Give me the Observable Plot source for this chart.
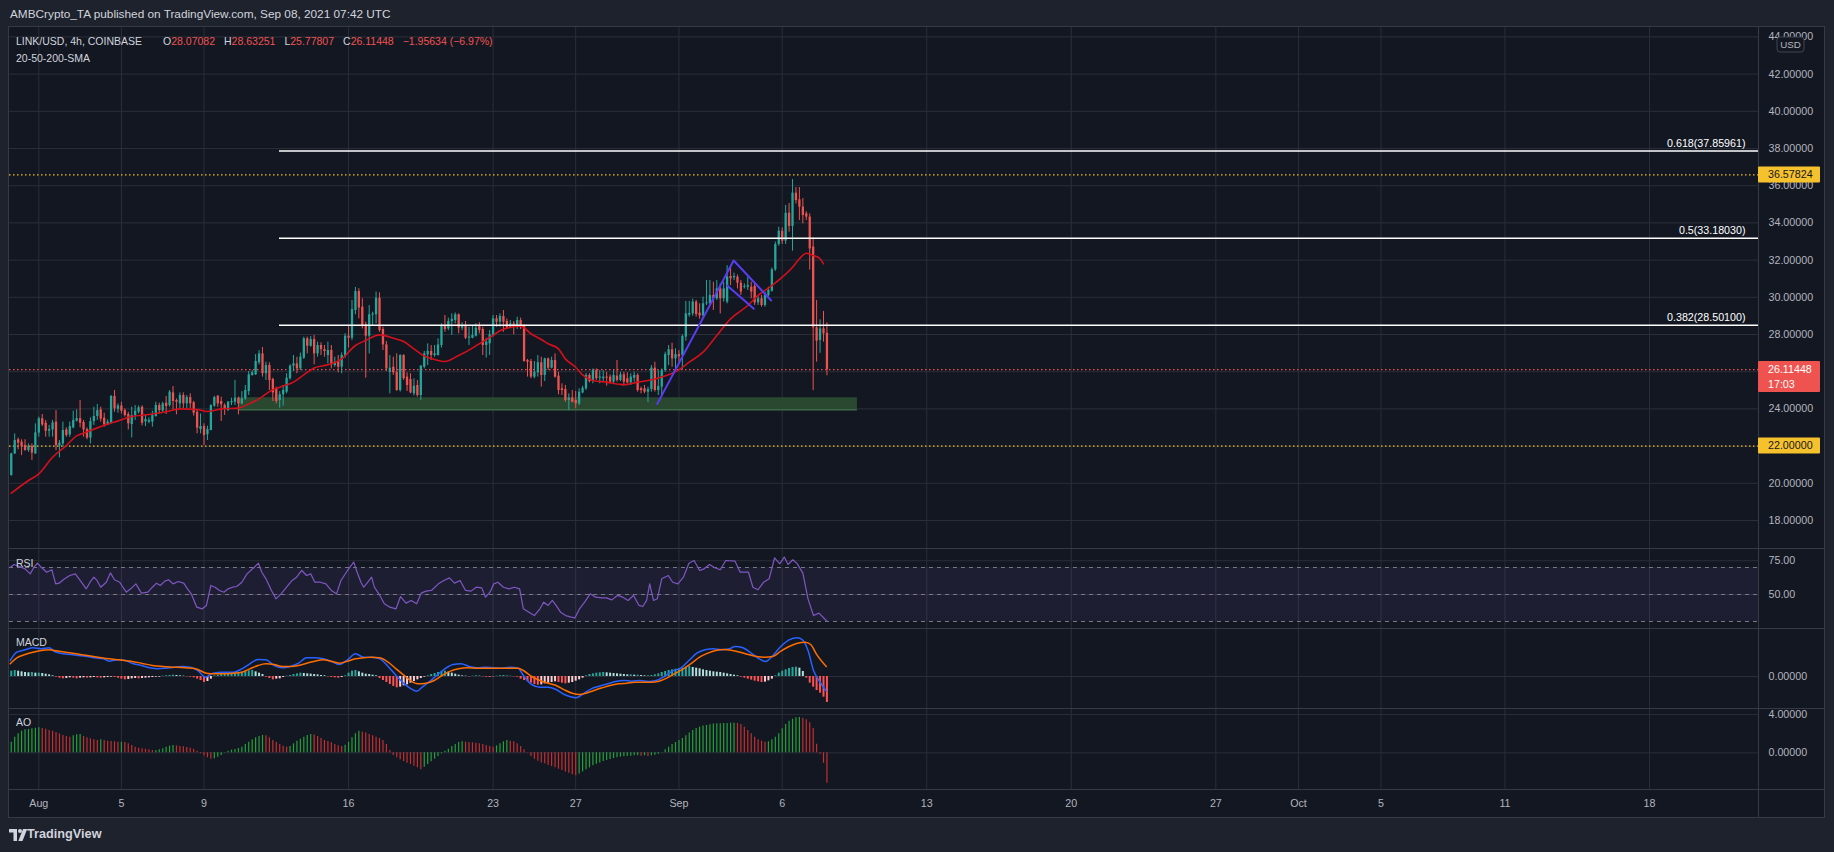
<!DOCTYPE html>
<html>
<head>
<meta charset="utf-8">
<script src="https://cdn.jsdelivr.net/npm/d3@7"></script>
<script src="https://cdn.jsdelivr.net/npm/@observablehq/plot@0.6"></script>
<style>
  html, body { margin:0; padding:0; background:#1e222d; }
  #root { position:relative; width:1834px; height:852px; background:#1e222d; overflow:hidden; }
  .abs { position:absolute; white-space:nowrap; line-height:1; }
  .abs svg { display:block; }
</style>
</head>
<body>
<div id="root"></div>
<script>
// ---------------- DATA ----------------
const titleText = "AMBCrypto_TA published on TradingView.com, Sep 08, 2021 07:42 UTC";
const symbolText = "LINK/USD, 4h, COINBASE";
const legendKeys = ["O", "H", "L", "C"];
const legendValues = ["28.07082", "28.63251", "25.77807", "26.11448"];
const changeText = "\u22121.95634 (\u22126.97%)";
const studyText = "20-50-200-SMA";
const paneNames = ["RSI", "MACD", "AO"];

// 4h candles, first bar 2021-07-30 16:00 UTC, last bar 2021-09-08 04:00 UTC
const firstBarTime = "2021-07-30T16:00:00Z";
const candleOpen = [
20.42,21.58,22.34,22.21,22.03,21.76,21.98,21.58,22.70,23.47,
23.23,22.80,22.87,23.29,22.01,22.12,22.87,22.60,22.98,23.34,
23.47,23.27,22.89,22.43,23.32,23.59,23.95,23.50,23.14,23.23,
24.67,23.98,24.16,23.91,23.70,23.16,23.63,23.82,24.09,23.30,
23.29,23.29,23.59,24.18,23.88,24.31,24.18,24.86,24.45,24.27,
24.72,24.27,24.61,24.33,23.82,22.89,23.05,22.61,22.84,24.15,
24.68,24.40,24.18,23.91,24.33,24.36,24.58,24.27,24.54,24.93,
25.80,25.83,26.48,26.96,25.89,26.33,25.58,25.08,24.45,24.76,
24.90,25.62,26.30,26.42,26.15,26.73,27.77,27.37,27.73,26.96,
27.41,27.19,26.87,27.14,26.33,26.55,26.24,26.84,27.91,27.80,
29.29,30.31,29.47,28.52,27.91,29.04,29.06,29.95,28.27,27.44,
25.97,26.24,25.97,24.99,26.87,25.71,25.58,24.81,25.26,24.72,
26.24,26.91,27.09,26.87,26.87,27.41,28.45,28.30,28.70,28.75,
29.06,28.34,28.48,27.80,27.80,27.91,28.48,28.27,27.41,27.50,
27.95,28.84,28.66,28.97,28.70,28.34,28.57,28.39,28.75,28.48,
26.60,26.55,25.71,25.94,26.48,25.80,26.69,26.19,26.60,25.76,
25.08,25.04,24.45,24.58,24.45,24.27,24.86,25.08,25.80,25.53,
26.06,25.65,25.62,25.71,25.71,25.44,25.76,25.53,25.83,25.62,
25.40,25.65,25.80,25.08,25.08,24.90,25.04,26.19,24.99,25.17,
26.06,26.87,27.18,26.69,26.92,26.87,27.86,29.04,29.11,29.74,
29.15,29.00,29.65,29.65,30.10,29.92,30.45,29.92,29.74,31.12,
31.05,31.08,30.76,30.54,30.54,30.54,30.58,29.70,29.92,29.56,
30.10,30.33,31.48,32.84,33.55,33.02,34.52,33.81,35.60,35.24,
34.85,34.49,34.31,32.70,28.36,27.68,28.30,28.07];
const candleHigh = [
21.62,22.66,22.43,22.34,22.34,22.12,22.12,23.20,23.56,23.70,
23.38,23.11,23.38,23.91,22.30,23.29,22.98,23.29,23.88,23.95,
24.45,23.38,22.98,23.52,24.09,24.24,24.09,23.77,23.41,24.72,
24.99,24.27,24.36,24.00,23.82,24.09,24.18,24.16,24.16,23.64,
23.52,23.88,24.36,24.31,24.36,24.67,24.99,25.20,24.54,24.86,
24.86,24.72,24.81,24.40,23.91,23.73,23.20,23.07,24.22,24.68,
24.72,24.63,24.27,24.40,24.58,25.53,24.63,24.93,25.26,26.01,
26.06,26.92,27.14,27.30,26.51,26.48,25.65,25.17,24.93,25.26,
25.89,26.37,26.87,26.78,27.00,27.86,27.86,27.89,27.95,27.59,
27.55,27.41,27.59,27.41,26.78,26.87,27.01,28.04,28.48,29.83,
30.53,30.46,29.92,28.66,29.56,29.20,30.28,30.24,28.39,27.62,
26.87,26.78,26.96,26.91,26.91,25.94,25.89,25.62,25.53,26.33,
27.09,27.50,27.41,27.41,27.77,28.57,29.02,28.88,29.11,29.16,
29.11,28.63,28.70,28.39,28.48,28.57,28.63,28.39,27.80,28.21,
29.02,29.02,29.11,29.29,28.84,28.75,28.70,28.93,28.88,28.52,
26.66,26.66,26.55,26.87,26.78,26.73,26.73,26.78,26.96,25.97,
25.35,25.26,24.81,24.99,24.94,25.08,25.22,25.89,25.89,26.15,
26.15,26.06,26.06,25.97,25.83,26.06,26.60,25.97,25.97,25.94,
25.89,25.97,25.89,25.17,25.26,25.17,26.33,26.51,26.06,26.15,
27.05,27.41,27.53,27.23,27.14,27.98,29.78,29.78,29.90,29.83,
29.65,30.01,30.90,30.90,30.81,30.90,30.72,30.81,31.70,31.70,
31.30,31.20,30.90,30.72,31.08,30.81,30.72,30.10,30.10,30.28,
30.54,31.57,32.97,33.77,33.73,34.94,35.04,36.33,35.90,35.90,
35.31,34.60,34.49,33.20,29.83,28.79,29.24,28.63];
const candleLow = [
20.38,21.55,21.80,21.49,21.73,21.67,21.23,21.55,22.48,23.05,
22.48,22.48,22.48,21.76,21.37,21.94,22.48,22.48,22.93,23.29,
22.98,22.48,22.34,22.12,23.11,23.38,23.29,23.02,23.11,23.20,
23.82,23.77,23.73,23.56,22.87,22.44,23.38,23.73,23.09,23.05,
23.20,23.02,23.56,23.73,23.82,23.70,24.09,23.97,23.68,24.00,
24.00,24.00,24.00,23.61,22.66,22.66,22.03,22.30,22.82,24.09,
24.09,23.32,23.65,23.86,24.18,24.18,23.68,24.22,24.45,24.72,
25.76,25.80,26.37,25.71,25.53,24.99,24.40,24.27,24.04,24.15,
24.81,25.55,26.01,25.89,26.06,26.66,26.96,27.32,26.37,26.78,
26.87,26.78,26.42,26.15,26.24,25.94,25.89,26.73,27.27,27.68,
29.06,28.84,28.30,25.65,26.96,28.48,28.57,28.12,27.14,26.01,
24.81,25.80,24.94,24.90,25.53,24.94,24.81,24.69,24.63,24.45,
26.15,26.33,26.60,26.78,26.84,27.27,28.12,28.21,27.95,28.57,
28.04,28.21,27.73,27.41,27.77,27.86,28.04,26.87,26.73,26.87,
27.86,28.39,28.39,28.12,28.27,28.30,27.98,28.27,28.27,26.51,
25.71,25.62,25.62,25.71,25.17,25.47,26.06,26.15,25.65,24.76,
24.72,24.36,23.91,24.33,24.00,24.18,24.81,24.99,25.40,25.35,
25.53,25.35,25.47,25.22,25.35,25.35,25.44,25.47,25.22,25.35,
25.26,25.44,24.90,24.81,24.81,24.33,24.90,24.90,24.72,24.67,
25.97,26.33,26.24,26.06,26.42,26.10,27.64,28.93,28.98,28.93,
28.82,28.93,29.56,29.56,29.29,29.83,29.11,29.74,29.65,30.63,
30.90,30.45,30.10,30.45,30.37,29.92,29.56,29.56,29.47,29.47,
30.01,30.28,31.39,32.75,32.84,32.84,33.50,32.48,35.02,34.13,
33.95,34.13,31.46,24.98,26.51,26.99,27.59,25.78];
const candleClose = [
21.58,22.30,22.16,21.98,21.76,21.98,21.62,22.71,23.47,23.14,
22.80,22.89,23.25,22.03,22.16,22.84,22.57,23.05,23.38,23.48,
23.23,22.87,22.43,23.32,23.59,23.91,23.45,23.14,23.29,24.67,
24.00,24.16,23.88,23.64,23.20,23.64,23.88,24.06,23.23,23.43,
23.38,23.64,24.18,23.91,24.27,24.13,24.90,24.40,24.36,24.72,
24.27,24.61,24.27,23.77,22.96,23.05,22.57,22.89,24.18,24.61,
24.27,24.22,23.97,24.36,24.40,24.58,24.27,24.54,24.99,25.83,
25.94,26.55,26.96,25.89,26.33,25.53,24.86,24.40,24.76,24.99,
25.65,26.30,26.42,26.15,26.78,27.77,27.37,27.73,26.96,27.41,
27.19,27.09,27.14,26.37,26.51,26.24,26.87,27.91,27.80,29.34,
30.31,29.42,28.48,27.91,29.06,29.10,29.95,28.21,27.44,26.15,
26.19,25.94,24.99,26.87,25.62,25.26,24.86,25.22,24.72,26.30,
26.96,27.09,26.87,26.96,27.44,28.45,28.27,28.70,28.81,29.06,
28.34,28.48,27.80,27.86,27.95,28.34,28.21,27.41,27.59,27.98,
28.84,28.66,28.97,28.66,28.34,28.57,28.39,28.75,28.45,26.55,
26.51,25.71,25.97,26.48,25.80,26.69,26.19,26.60,25.71,24.99,
24.99,24.45,24.58,24.36,24.27,24.90,25.11,25.80,25.47,26.06,
25.62,25.71,25.71,25.65,25.44,25.80,25.53,25.83,25.44,25.40,
25.71,25.80,24.99,24.99,24.90,25.04,26.19,24.99,25.20,26.06,
26.92,27.18,26.69,26.92,26.80,27.89,29.11,29.13,29.74,29.07,
29.00,29.65,29.70,30.10,29.92,30.45,29.92,30.45,31.10,30.99,
31.12,30.76,30.28,30.58,30.63,30.28,29.70,29.92,29.56,30.10,
30.37,31.48,32.84,33.55,33.02,34.52,33.81,35.60,35.20,34.85,
34.40,34.31,32.60,28.36,27.64,28.30,28.04,26.11];

// 20-period SMA, read at bar numbers [bar, value]
const sma20 = [[1,19.47],[6,20.15],[9,20.51],[13,21.40],[17,22.03],[20,22.55],[22,22.69],[26,22.98],[31,23.29],[36,23.59],[41,23.70],[46,23.85],[50,24.00],[55,23.97],[58,23.86],[62,24.00],[67,24.04],[70,24.27],[73,24.54],[76,24.93],[79,25.17],[83,25.44],[86,25.83],[89,26.20],[93,26.37],[97,26.69],[101,27.41],[104,27.68],[108,27.98],[112,27.80],[115,27.62],[118,27.23],[121,26.84],[124,26.66],[127,26.55],[131,26.87],[135,27.27],[138,27.62],[141,27.95],[143,28.20],[146,28.39],[149,28.45],[152,28.04],[155,27.73],[157,27.50],[160,27.23],[162,26.69],[165,26.24],[167,25.83],[170,25.53],[174,25.44],[179,25.30],[183,25.44],[186,25.53],[190,25.71],[195,26.10],[198,26.51],[202,27.05],[206,27.95],[210,28.84],[215,29.56],[218,30.10],[222,30.63],[225,31.08],[228,31.62],[230,32.07],[232,32.37],[234,32.25],[236,32.07],[237,31.80]];

// Price axis
const priceTicks = [18,20,22,24,26,28,30,32,34,36,38,40,42,44];
const keyLevels = [36.57824, 22.00000];
const lastPrice = 26.11448;
const countdownText = "17:03";
const quoteCurrency = "USD";

// Fibonacci retracement drawing
const fibRatio = ["0.382", "0.5", "0.618"];
const fibPrice = [28.50100, 33.18030, 37.85961];
const fibStartTime = "2021-08-12T15:45:00Z";

// Support zone drawing
const supportZone = {from:"2021-08-10T16:00:00Z", to:"2021-09-09T15:30:00Z", low:23.95, high:24.60};

// Flag drawing lines [bar, price]
const flagPole = [[188.7,24.27],[210.9,31.98],[221.8,29.83]];
const flagLower = [[209.0,30.63],[216.75,29.38]];

// Time axis
const timeTickDates = ["2021-08-01","2021-08-05","2021-08-09","2021-08-16","2021-08-23","2021-08-27","2021-09-01","2021-09-06","2021-09-13","2021-09-20","2021-09-27","2021-10-01","2021-10-05","2021-10-11","2021-10-18"];
const timeTickLabels = ["Aug","5","9","16","23","27","Sep","6","13","20","27","Oct","5","11","18"];

// RSI [bar, value]
const rsiTicks = [75, 50];
const rsiLevels = [70, 50, 30];
const rsiBand = [30, 70];
const rsiPoints = [[0.7,70.2],[1.8,72.2],[3.4,70.7],[5.0,69.0],[6.5,65.3],[7.6,70.2],[8.6,73.2],[9.7,70.2],[11.3,66.5],[12.8,68.3],[13.9,57.9],[14.9,58.4],[16.5,61.6],[18.0,64.1],[19.6,65.3],[20.7,61.6],[22.8,54.2],[23.9,59.1],[25.0,62.8],[25.9,60.4],[27.0,55.4],[28.6,59.1],[29.8,66.0],[31.0,60.9],[32.5,59.1],[34.4,51.7],[35.7,54.2],[37.2,57.9],[38.8,51.0],[40.7,51.7],[42.0,55.4],[43.2,58.4],[44.3,56.7],[45.6,59.9],[46.7,60.9],[48.0,57.9],[49.5,59.6],[51.1,58.4],[52.2,54.2],[53.3,50.5],[54.9,40.6],[56.5,39.4],[57.7,41.9],[59.0,56.7],[60.2,55.4],[61.5,53.0],[62.8,51.7],[64.0,54.2],[65.3,55.4],[66.5,55.9],[68.0,59.1],[69.5,65.3],[71.6,70.2],[72.8,73.2],[73.8,66.5],[75.0,61.6],[76.6,53.0],[77.9,46.8],[79.4,50.5],[81.0,55.4],[82.6,60.4],[83.9,62.8],[85.4,67.8],[86.8,64.1],[88.0,65.3],[89.2,59.1],[90.8,59.1],[92.4,57.9],[94.0,53.0],[95.5,50.5],[96.8,60.4],[98.7,67.8],[100.5,74.0],[101.5,66.5],[102.6,59.1],[103.4,55.4],[104.6,59.1],[105.7,62.8],[106.5,55.4],[107.8,50.5],[109.4,43.1],[111.0,40.6],[112.8,39.4],[114.1,48.5],[115.7,43.6],[117.2,45.6],[118.8,43.1],[120.1,51.0],[121.5,52.5],[123.1,53.0],[125.1,57.9],[126.7,60.4],[128.3,62.3],[129.8,58.4],[131.4,60.4],[133.0,53.0],[134.6,52.5],[136.1,55.4],[137.7,54.9],[138.8,48.0],[140.1,51.7],[141.2,57.9],[142.4,59.1],[144.0,55.4],[145.6,54.2],[147.2,55.4],[148.7,54.2],[149.8,39.4],[151.4,36.9],[153.0,34.4],[154.6,39.4],[155.7,44.3],[157.0,41.9],[158.2,45.6],[159.3,41.9],[160.6,36.9],[162.1,34.4],[163.7,33.2],[164.8,32.7],[166.1,39.4],[167.6,44.3],[169.2,50.5],[170.8,48.0],[172.4,47.5],[173.9,47.5],[175.5,46.0],[177.1,49.3],[178.7,48.0],[180.2,45.6],[181.8,49.3],[183.4,41.9],[184.5,41.1],[185.6,45.6],[186.5,57.9],[187.6,45.6],[188.7,46.8],[190.0,61.6],[191.9,64.1],[193.2,59.1],[194.7,57.9],[196.3,62.8],[197.9,73.2],[199.4,75.2],[201.0,67.8],[202.3,69.0],[203.9,72.2],[205.4,69.8],[207.0,68.3],[208.6,75.2],[211.3,74.7],[212.8,66.5],[215.2,66.5],[216.5,55.4],[218.0,53.5],[219.6,59.1],[221.2,61.6],[222.8,77.2],[224.3,72.7],[225.6,77.7],[226.7,72.2],[228.1,75.7],[229.4,72.7],[231.0,65.8],[232.5,46.8],[234.1,34.4],[235.7,36.2],[238,30.2]];

// MACD [bar, value]
const macdTicks = [0];
const macdLine = [[0.7,0.48],[2.6,0.73],[5.0,0.80],[7.3,0.86],[9.7,0.83],[12.0,0.86],[13.6,0.75],[16.0,0.68],[18.3,0.66],[20.7,0.63],[23.1,0.60],[25.4,0.56],[27.8,0.53],[29.4,0.46],[31.7,0.50],[34.1,0.48],[36.5,0.38],[38.8,0.33],[41.2,0.26],[43.5,0.23],[45.9,0.25],[48.3,0.28],[50.6,0.30],[53.0,0.28],[55.4,0.16],[57.4,-0.02],[59.6,0.10],[62.4,0.13],[65.6,0.13],[68.0,0.23],[70.3,0.38],[72.7,0.51],[75.0,0.50],[77.4,0.33],[79.8,0.26],[82.1,0.30],[84.5,0.40],[86.8,0.56],[89.2,0.56],[91.6,0.53],[93.9,0.46],[96.3,0.36],[98.7,0.50],[101.0,0.68],[103.4,0.58],[105.7,0.58],[108.1,0.53],[110.5,0.30],[112.8,0.03],[115.2,-0.22],[117.2,-0.37],[118.8,-0.44],[120.4,-0.32],[122.3,-0.17],[124.6,0.03],[127.0,0.23],[129.4,0.36],[131.7,0.38],[134.1,0.30],[136.5,0.26],[138.8,0.28],[141.2,0.26],[143.5,0.25],[145.9,0.28],[148.3,0.25],[149.8,0.03],[152.2,-0.24],[154.6,-0.32],[157.0,-0.32],[159.3,-0.39],[161.7,-0.54],[164.0,-0.62],[165.1,-0.64],[167.2,-0.52],[169.5,-0.37],[171.9,-0.29],[174.3,-0.22],[176.6,-0.15],[179.0,-0.12],[181.3,-0.14],[183.7,-0.12],[186.1,-0.15],[188.4,-0.12],[190.8,0.00],[193.1,0.16],[195.5,0.25],[197.9,0.48],[200.2,0.70],[202.6,0.80],[205.0,0.83],[207.3,0.80],[209.7,0.83],[211.3,0.90],[213.6,0.86],[216.0,0.70],[218.3,0.53],[220.2,0.45],[222.3,0.63],[224.6,0.90],[227.0,1.10],[229.4,1.16],[230.9,1.10],[232.5,0.78],[234.1,0.18],[235.7,-0.12],[237.8,-0.44]];
const macdSignal = [[0.7,0.38],[2.6,0.56],[5.0,0.66],[7.3,0.73],[9.7,0.78],[12.0,0.80],[13.6,0.78],[16.8,0.73],[19.9,0.68],[23.1,0.63],[26.2,0.58],[29.4,0.53],[32.5,0.50],[35.7,0.46],[38.8,0.40],[42.0,0.33],[45.1,0.30],[48.3,0.28],[51.4,0.26],[54.6,0.23],[57.7,0.10],[60.1,0.08],[62.4,0.08],[65.6,0.10],[68.0,0.13],[70.3,0.23],[72.7,0.33],[75.0,0.38],[77.4,0.36],[79.8,0.30],[82.1,0.30],[84.5,0.33],[86.8,0.40],[89.2,0.46],[91.6,0.50],[93.9,0.46],[96.3,0.40],[98.7,0.46],[101.0,0.53],[103.4,0.56],[105.7,0.58],[108.1,0.56],[110.5,0.43],[112.8,0.23],[115.2,0.03],[117.2,-0.14],[119.1,-0.22],[121.5,-0.20],[123.9,-0.12],[126.2,0.03],[128.6,0.16],[131.0,0.23],[133.3,0.26],[136.5,0.25],[139.6,0.25],[142.8,0.25],[145.9,0.25],[148.3,0.25],[149.8,0.18],[152.2,0.00],[154.6,-0.12],[157.0,-0.20],[159.3,-0.27],[161.7,-0.40],[164.0,-0.50],[166.1,-0.54],[168.0,-0.50],[170.3,-0.42],[172.7,-0.34],[175.0,-0.27],[177.4,-0.22],[179.8,-0.20],[182.1,-0.17],[184.5,-0.17],[186.9,-0.17],[189.2,-0.14],[191.6,-0.04],[194.0,0.10],[196.3,0.23],[198.7,0.40],[201.0,0.58],[203.4,0.70],[205.7,0.78],[208.1,0.81],[210.5,0.78],[212.8,0.73],[215.2,0.66],[217.6,0.60],[219.9,0.58],[222.3,0.60],[224.6,0.76],[227.0,0.90],[229.4,1.00],[231.7,1.03],[233.3,0.96],[234.9,0.68],[237.8,0.30]];
// MACD histogram, one value per candle
const macdHist = [
0.16,0.18, 0.16,0.14,0.12,0.11,0.12,0.10,
0.10,0.09,0.07,0.05,0.02,-0.02, -0.05,-0.07,-0.06,-0.04,-0.05,-0.07,
-0.05,-0.04,-0.05,-0.04,-0.03,-0.04, -0.05,-0.04,-0.03,-0.02,-0.03,-0.05,
-0.08,-0.10,-0.09,-0.07,-0.06,-0.07, -0.06,-0.05,-0.04,-0.03,-0.02,-0.02,
0.01,0.02,0.03,0.04,0.03,0.02, 0.01,-0.01,-0.02,-0.04,-0.08,-0.12,
-0.18,-0.15,-0.08,0.02,0.04,0.06, 0.08,0.09,0.10,0.11,0.12,0.13,
0.15,0.17,0.18,0.14,0.10,0.06, -0.02,-0.06,-0.10,-0.08,-0.07,-0.03,
0.01,0.03,0.06,0.08,0.10,0.09, 0.08,0.07,0.06,0.05,0.03,0.02,
-0.01,-0.03,-0.04,-0.05,-0.03,0.02, 0.10,0.16,0.18,0.14,0.10,0.07,
0.06,0.04,0.02,-0.06,-0.12,-0.18, -0.24,-0.30,-0.34,-0.32,-0.28,-0.25,
-0.20,-0.15,-0.10,-0.06,-0.02,0.02, 0.06,0.09,0.12,0.14,0.16,0.13,
0.10,0.07,0.04,0.02,0.01,-0.01, 0.01,0.02,0.01,-0.01,-0.02,-0.03,
-0.01,0.01,0.02,0.03,0.01,0.01, -0.01,-0.02,-0.08,-0.12,-0.16,-0.20,
-0.24,-0.26,-0.25,-0.22,-0.20,-0.18, -0.16,-0.18,-0.20,-0.22,-0.20,-0.18,
-0.14,-0.10,-0.05,0.02,0.06,0.08, 0.10,0.11,0.12,0.11,0.10,0.09,
0.08,0.07,0.06,0.05,0.05,0.04, 0.04,0.03,0.02,0.02,0.03,0.05,
0.08,0.12,0.15,0.18,0.20,0.22, 0.23,0.25,0.28,0.30,0.27,0.25,
0.23,0.20,0.18,0.16,0.14,0.13, 0.12,0.10,0.08,0.06,0.04,0.02,
-0.02,-0.05,-0.08,-0.11,-0.14,-0.16, -0.18,-0.17,-0.13,-0.08,0.02,0.10,
0.16,0.20,0.24,0.27,0.28,0.25, 0.15,-0.05,-0.20,-0.32,-0.42,-0.50,
-0.62,-0.78];

// Awesome Oscillator, one value per candle
const aoTicks = [4, 0];
const aoValues = [
1.11,1.64, 1.99,2.26,2.40,2.44,2.51,2.58,
2.61,2.54,2.47,2.33,2.26,2.13, 1.99,1.81,1.71,1.64,1.78,1.88,
1.92,1.71,1.57,1.46,1.36,1.29, 1.36,1.29,1.22,1.18,1.15,1.11,
1.11,1.08,0.94,0.77,0.59,0.49, 0.42,0.38,0.31,0.24,0.24,0.31,
0.42,0.59,0.70,0.77,0.73,0.66, 0.63,0.56,0.49,0.38,0.17,-0.10,
-0.31,-0.52,-0.66,-0.63,-0.45,-0.28, -0.03,0.17,0.28,0.35,0.45,0.59,
0.87,1.11,1.36,1.57,1.71,1.81, 1.78,1.57,1.29,1.08,0.87,0.70,
0.59,0.66,0.94,1.22,1.43,1.64, 1.81,1.92,1.85,1.71,1.50,1.29,
1.18,1.05,0.87,0.73,0.66,0.80, 1.11,1.57,1.99,2.26,2.16,2.06,
1.92,1.78,1.64,1.50,1.29,0.87, 0.24,-0.28,-0.52,-0.73,-0.91,-1.08,
-1.22,-1.39,-1.57,-1.78,-1.50,-1.22, -0.94,-0.66,-0.38,-0.10,0.17,0.38,
0.66,0.87,1.08,1.15,1.11,1.08, 1.05,1.01,0.94,0.87,0.77,0.66,
0.59,0.73,0.94,1.15,1.29,1.22, 1.15,0.94,0.66,0.31,-0.03,-0.38,
-0.66,-0.87,-1.05,-1.15,-1.29,-1.43, -1.57,-1.71,-1.85,-1.99,-2.13,-2.30,
-2.40,-2.20,-1.99,-1.78,-1.57,-1.36, -1.18,-1.05,-0.91,-0.80,-0.70,-0.59,
-0.52,-0.45,-0.42,-0.38,-0.35,-0.31, -0.31,-0.35,-0.31,-0.38,-0.31,-0.24,
-0.14,0.03,0.31,0.59,0.87,1.08, 1.29,1.50,1.78,2.06,2.33,2.54,
2.68,2.79,2.86,2.93,3.00,3.03, 3.03,3.07,3.07,3.10,3.10,3.07,
2.96,2.68,2.33,1.99,1.64,1.36, 1.22,1.11,1.15,1.36,1.64,1.99,
2.51,2.96,3.31,3.52,3.66,3.69, 3.62,3.45,3.15,2.55,0.90,-0.15,
-1.10,-3.17];

// ---------------- RENDER ----------------
const root = document.getElementById("root");

function fontAvailable(name) {
  const ctx = document.createElement("canvas").getContext("2d");
  const s = "abcdefghijklmnopqrstuvwxyz0123456789ABCDEFGHIJ";
  let ok = false;
  for (const fb of ["monospace", "serif"]) {
    ctx.font = "40px " + fb; const a = ctx.measureText(s).width;
    ctx.font = "40px '" + name + "', " + fb; const b = ctx.measureText(s).width;
    if (Math.abs(a - b) > 0.5) ok = true;
  }
  return ok;
}
const NARROW = fontAvailable("Liberation Sans Narrow");
const FONT = NARROW ? "'Liberation Sans Narrow', 'Liberation Sans', Arial, sans-serif" : "'Liberation Sans', Arial, sans-serif";
const fsz = n => (NARROW ? n : Math.round(n * 0.82 * 10) / 10);

function box(left, top, w, h, bg, extra) {
  const d = document.createElement("div");
  d.className = "abs";
  Object.assign(d.style, {left: left + "px", top: top + "px", width: w + "px", height: h + "px", background: bg}, extra || {});
  root.appendChild(d); return d;
}
function label(left, centerY, html, size, color, extra) {
  const d = document.createElement("div");
  d.className = "abs";
  Object.assign(d.style, {left: left + "px", top: (centerY - size * 0.55) + "px", fontFamily: FONT, fontSize: size + "px", color: color}, extra || {});
  d.innerHTML = html; root.appendChild(d); return d;
}

const CH_L = 9, CH_T = 27, CH_R = 1824, CH_B = 817, AXIS_X = 1758;
const PANES = {main: [27, 548], rsi: [548, 628], macd: [628, 708], ao: [708, 789], time: [789, 817]};
const GRID = "#2a2e39", SEP = "#363a45", TXT = "#b2b5be", UP = "#26a69a", DOWN = "#ef5350";

// frame
box(CH_L, CH_T, CH_R - CH_L, CH_B - CH_T, "#131722", {boxShadow: "0 0 0 1px " + SEP});
label(10, 15, titleText, fsz(14.4), "#d1d4dc");

// scales
const DAY = 864e5, H4 = 4 * 3600e3;
const T_AUG1 = Date.UTC(2021, 7, 1);
const xStart = new Date(T_AUG1 - 1.4189 * DAY), xEnd = new Date(T_AUG1 + 83.279 * DAY);
const T_FIRST = Date.parse(firstBarTime);
const barDate = k => new Date(T_FIRST + (k - 1) * H4);
const tickDates = timeTickDates.map(s => new Date(s + "T00:00:00Z"));

const candles = candleOpen.map((o, i) => ({
  date: barDate(i + 1), open: o, high: candleHigh[i], low: candleLow[i], close: candleClose[i],
  color: candleClose[i] >= o ? UP : DOWN
}));

function pane(name, yDomain, marks) {
  const [top, bottom] = PANES[name];
  const plot = Plot.plot({
    width: CH_R - CH_L, height: bottom - top,
    marginLeft: 0, marginRight: CH_R - AXIS_X, marginTop: 0, marginBottom: 0,
    x: {type: "utc", domain: [xStart, xEnd], axis: null},
    y: {domain: yDomain, axis: null},
    color: {type: "identity"},
    style: {background: "transparent", color: TXT, fontFamily: FONT, fontSize: fsz(13) + "px", overflow: "visible"},
    marks
  });
  const holder = box(CH_L, top, CH_R - CH_L, bottom - top, "transparent");
  holder.appendChild(plot);
  return plot;
}
const vGrid = () => Plot.ruleX(tickDates, {x: d => d, stroke: GRID});
const yLabels = (ticks, fmt) => Plot.text(ticks, {y: d => d, text: fmt, frameAnchor: "right", textAnchor: "start", dx: 10, fill: TXT, fontSize: fsz(13)});

// price-axis ticks whose label sits fully under the last-price or level tags are hidden, as in the chart
const mainDomain = [16.495, 44.505];
const pxPerUnit = (PANES.main[1] - PANES.main[0]) / (mainDomain[1] - mainDomain[0]);
const hiddenUnderTag = t => keyLevels.some(v => Math.abs(v - t) * pxPerUnit < 3) ||
  ((lastPrice - t) * pxPerUnit > -20 && (lastPrice - t) * pxPerUnit < 4);
const shownPriceTicks = priceTicks.filter(t => !hiddenUnderTag(t));

// ---- main pane
const mainPlot = pane("main", mainDomain, [
  vGrid(),
  Plot.ruleY(priceTicks, {y: d => d, stroke: GRID}),
  Plot.rect([supportZone], {x1: d => new Date(d.from), x2: d => new Date(d.to), y1: "low", y2: "high", fill: "#29482f"}),
  Plot.ruleY([supportZone], {x1: d => new Date(d.from), x2: d => new Date(d.to), y: "low", stroke: "#3c6a46", strokeWidth: 1.5}),
  Plot.ruleY(keyLevels, {y: d => d, stroke: "#f5c02c", strokeDasharray: "1.5 2.5", strokeWidth: 1.2}),
  Plot.ruleY([lastPrice], {y: d => d, stroke: "#ef5350", strokeDasharray: "1.5 2.5", strokeWidth: 1.2}),
  Plot.ruleX(candles, {x: "date", y1: "low", y2: "high", stroke: "color", strokeWidth: 1}),
  Plot.ruleX(candles, {x: "date", y1: "open", y2: "close", stroke: "color", strokeWidth: 2.3}),
  Plot.line(sma20, {x: d => barDate(d[0]), y: d => d[1], stroke: "#d3101b", strokeWidth: 1.6, curve: "monotone-x"}),
  Plot.ruleY(fibPrice, {y: d => d, x1: () => new Date(fibStartTime), x2: () => xEnd, stroke: "#ffffff", strokeWidth: 1.5}),
  Plot.text(fibPrice, {x: () => xEnd, y: d => d, text: (d, i) => fibRatio[i] + "(" + d.toFixed(5) + ")", textAnchor: "end", dx: -13, dy: -8, fill: "#ffffff", fontSize: fsz(13)}),
  Plot.line(flagPole, {x: d => barDate(d[0]), y: d => d[1], stroke: "#5a3cf5", strokeWidth: 2}),
  Plot.line(flagLower, {x: d => barDate(d[0]), y: d => d[1], stroke: "#5a3cf5", strokeWidth: 2}),
  Plot.ruleX([xEnd], {x: d => d, stroke: SEP}),
  yLabels(shownPriceTicks, d => d.toFixed(5))
]);

// price tags on the axis
{
  const svg = d3.select(mainPlot);
  const ys = mainPlot.scale("y");
  const axX = AXIS_X - CH_L;
  const fs = fsz(13);
  const tagText = (y, txt, color) => svg.append("text").attr("x", axX + 10).attr("y", y).attr("dy", "0.36em")
    .attr("text-anchor", "start").attr("fill", color).style("font-family", FONT).style("font-size", fs + "px").text(txt);
  keyLevels.forEach(v => {
    const y = ys.apply(v);
    svg.append("rect").attr("x", axX).attr("y", y - 8).attr("width", 62).attr("height", 16).attr("fill", "#f5c12d").attr("rx", 1);
    tagText(y, v.toFixed(5), "#131722");
  });
  const yl = ys.apply(lastPrice);
  svg.append("rect").attr("x", axX).attr("y", yl - 8).attr("width", 62).attr("height", 31).attr("fill", "#ef5350").attr("rx", 1);
  tagText(yl, lastPrice.toFixed(5), "#ffffff");
  tagText(yl + 15, countdownText, "#ffffff");
  // currency button
  svg.append("rect").attr("x", 1777 - CH_L).attr("y", 37 - CH_T).attr("width", 27).attr("height", 15).attr("rx", 3)
    .attr("fill", "#131722").attr("stroke", "#434651");
  svg.append("text").attr("x", 1790.5 - CH_L).attr("y", 44.5 - CH_T).attr("dy", "0.36em").attr("text-anchor", "middle")
    .attr("fill", TXT).style("font-family", FONT).style("font-size", fsz(12) + "px").text(quoteCurrency);
}

// ---- RSI pane
pane("rsi", [24.81, 84.07], [
  vGrid(),
  Plot.ruleY(rsiTicks, {y: d => d, stroke: GRID}),
  Plot.rect([rsiBand], {x1: () => xStart, x2: () => xEnd, y1: d => d[0], y2: d => d[1], fill: "#7e57c2", fillOpacity: 0.11}),
  Plot.ruleY(rsiLevels, {y: d => d, stroke: "#787b86", strokeDasharray: "4 4"}),
  Plot.line(rsiPoints, {x: d => barDate(d[0]), y: d => d[1], stroke: "#7e57c2", strokeWidth: 1.2}),
  Plot.ruleX([xEnd], {x: d => d, stroke: SEP}),
  yLabels(rsiTicks, d => d.toFixed(2))
]);

// ---- MACD pane
const histData = macdHist.map((v, i) => {
  const prev = i > 0 ? macdHist[i - 1] : v;
  const color = v >= 0 ? (v >= prev ? "#26a69a" : "#b2dfdb") : (v < prev ? "#ff5252" : "#ffcdd2");
  return {date: barDate(i + 1), v, color};
});
pane("macd", [-0.96, 1.44], [
  vGrid(),
  Plot.ruleY(macdTicks, {y: d => d, stroke: GRID}),
  Plot.ruleX(histData, {x: "date", y1: () => 0, y2: "v", stroke: "color", strokeWidth: 2}),
  Plot.line(macdLine, {x: d => barDate(d[0]), y: d => d[1], stroke: "#2962ff", strokeWidth: 1.5, curve: "monotone-x"}),
  Plot.line(macdSignal, {x: d => barDate(d[0]), y: d => d[1], stroke: "#ff6d00", strokeWidth: 1.5, curve: "monotone-x"}),
  Plot.ruleX([xEnd], {x: d => d, stroke: SEP}),
  yLabels(macdTicks, d => d.toFixed(5))
]);

// ---- AO pane
const aoData = aoValues.map((v, i) => ({date: barDate(i + 1), v, color: (i === 0 || v >= aoValues[i - 1]) ? "#22a33a" : "#c42f2f"}));
pane("ao", [-3.83, 4.63], [
  vGrid(),
  Plot.ruleY(aoTicks, {y: d => d, stroke: GRID}),
  Plot.ruleX(aoData, {x: "date", y1: () => 0, y2: "v", stroke: "color", strokeWidth: 1.2}),
  Plot.ruleX([xEnd], {x: d => d, stroke: SEP}),
  yLabels(aoTicks, d => d.toFixed(5))
]);

// ---- time axis
pane("time", [0, 1], [
  Plot.text(tickDates, {x: d => d, text: (d, i) => timeTickLabels[i], frameAnchor: "middle", fill: TXT, fontSize: fsz(13)}),
  Plot.ruleX([xEnd], {x: d => d, stroke: SEP})
]);

// pane separators
[PANES.rsi[0], PANES.macd[0], PANES.ao[0], PANES.time[0]].forEach(y => box(CH_L, y, CH_R - CH_L, 1, SEP));

// legends
const legendSize = fsz(12.8);
const ohlc = legendKeys.map((k, i) => `<span style="margin-left:9px">${k}</span><span style="color:#ef5350">${legendValues[i]}</span>`).join("");
label(16, 42, `${symbolText}<span style="margin-left:12px"></span>${ohlc}<span style="color:#ef5350;margin-left:9px">${changeText}</span>`, legendSize, "#d1d4dc");
label(16, 59, studyText, legendSize, "#d1d4dc");
label(16, 564, paneNames[0], legendSize, "#d1d4dc");
label(16, 643, paneNames[1], legendSize, "#d1d4dc");
label(16, 723, paneNames[2], legendSize, "#d1d4dc");

// footer logo
const logo = document.createElement("div");
logo.className = "abs";
Object.assign(logo.style, {left: "9px", top: "827px"});
logo.innerHTML = `<svg width="20" height="16" viewBox="0 0 20 16"><path d="M0 2h8v12H4.5V5.5H0z" fill="#d1d4dc"/><circle cx="11" cy="4" r="2" fill="#d1d4dc"/><path d="M14 2h4.2L13.5 14H9.3z" fill="#d1d4dc"/></svg>`;
root.appendChild(logo);
label(27, 835, "TradingView", fsz(15.5), "#d1d4dc", {fontWeight: "bold"});
</script>
</body>
</html>
